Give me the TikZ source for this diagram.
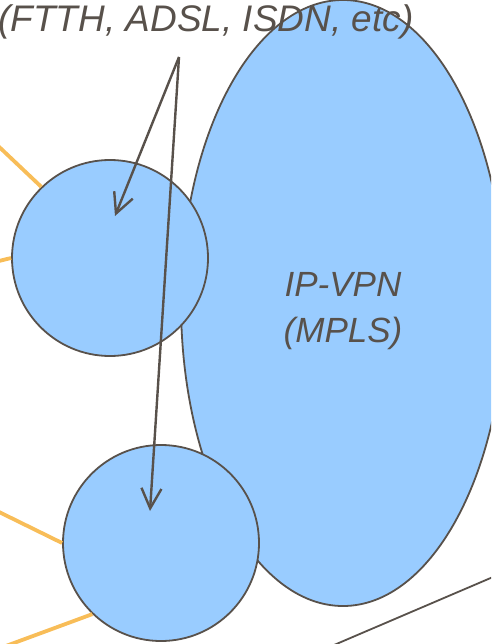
\documentclass[tikz,border=0pt]{standalone}
\usepackage{fontspec}
\setmainfont{Liberation Sans}
\usetikzlibrary{arrows.meta,shapes.geometric}
\definecolor{cloud}{HTML}{99CCFF}
\definecolor{ink}{HTML}{58514B}
\definecolor{wire}{HTML}{F8BD58}
\tikzset{
  net/.style={circle, draw=ink, fill=cloud, line width=1.8pt, minimum size=196pt, inner sep=0pt},
  core/.style={ellipse, draw=ink, fill=cloud, line width=1.8pt, minimum width=324pt, minimum height=606pt, inner sep=0pt},
  tag/.style={text=ink, align=center, font=\itshape\fontsize{35}{46}\selectfont},
  link/.style={wire, line width=3.8pt},
  pointer/.style={ink, line width=2.4pt, -{Straight Barb[length=20pt,width=20pt,line width=2.4pt]}}
}
\begin{document}
\begin{tikzpicture}[x=1pt,y=-1pt]
  \useasboundingbox (0,0) rectangle (491,644);
  \clip (0,0) rectangle (491,644);

  % the carrier network
  \node[core] (vpn) at (343,303) {};
  \node[tag] (vpnname) at ([yshift=-8pt]vpn.center) {IP-VPN\\(MPLS)};

  % access lines
  \coordinate (a1) at (-5,143);
  \coordinate (a2) at (-5,262);
  \coordinate (b1) at (-5,510);
  \coordinate (b2) at (-5,650);
  \coordinate (t1) at (320,651);
  \coordinate (t2) at (500,574);

  \node[net] (site1) at (110,258) {};
  \node[net] (site2) at (161,543) {};

  \draw[link] (a1) -- (site1.134);
  \draw[link] (a2) -- (site1.180);
  \draw[link] (b1) -- (site2.180);
  \draw[link] (b2) -- (site2.226);
  \draw[ink, line width=1.8pt] (t1) -- (t2);

  \node[tag, font=\itshape\fontsize{37}{40}\selectfont, anchor=base] (kind) at (206,32) {(FTTH, ADSL, ISDN, etc)};

  \coordinate (src) at (179,57);
  \coordinate (tip1) at (115,216);
  \coordinate (tip2) at (150,511);
  \draw[pointer] (src) -- (tip1);
  \draw[pointer] (src) -- (tip2);
\end{tikzpicture}
\end{document}
